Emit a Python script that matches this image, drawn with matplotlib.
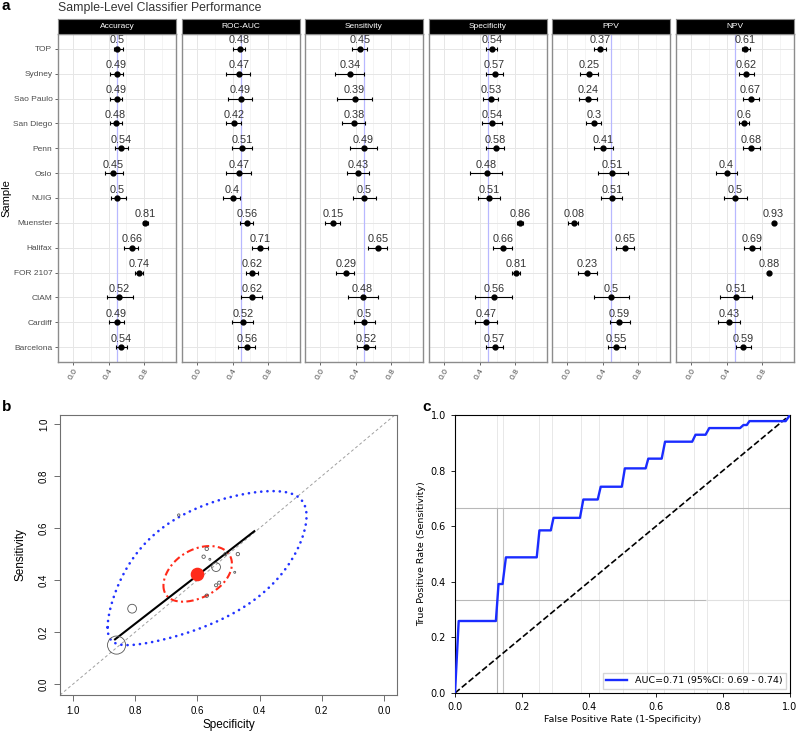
import numpy as np
import matplotlib.pyplot as plt

# ---- panel a data (rows top -> bottom) ----
sites = ["TOP", "Sydney", "Sao Paulo", "San Diego", "Penn", "Oslo", "NUIG",
         "Muenster", "Halifax", "FOR 2107", "CIAM", "Cardiff", "Barcelona"]
metrics = ["Accuracy", "ROC-AUC", "Sensitivity", "Specificity", "PPV", "NPV"]

acc = [0.50, 0.49, 0.49, 0.48, 0.54, 0.45, 0.50, 0.81, 0.66, 0.74, 0.52, 0.49, 0.54]
acc_lo = [0.465, 0.414, 0.42, 0.414, 0.471, 0.358, 0.427, 0.783, 0.576, 0.697, 0.377, 0.407, 0.482]
acc_hi = [0.56, 0.565, 0.554, 0.546, 0.621, 0.558, 0.591, 0.847, 0.734, 0.783, 0.67, 0.573, 0.61]

auc = [0.48, 0.47, 0.49, 0.42, 0.51, 0.47, 0.40, 0.56, 0.71, 0.62, 0.62, 0.52, 0.56]
auc_lo = [0.407, 0.324, 0.343, 0.331, 0.395, 0.331, 0.29, 0.482, 0.614, 0.546, 0.493, 0.395, 0.463]
auc_hi = [0.539, 0.595, 0.614, 0.50, 0.621, 0.603, 0.48, 0.633, 0.795, 0.689, 0.734, 0.625, 0.652]

sens = [0.45, 0.34, 0.39, 0.38, 0.49, 0.43, 0.50, 0.15, 0.65, 0.29, 0.48, 0.50, 0.52]
sens_lo = [0.365, 0.166, 0.196, 0.249, 0.335, 0.298, 0.373, 0.053, 0.542, 0.185, 0.316, 0.38, 0.418]
sens_hi = [0.524, 0.497, 0.58, 0.505, 0.644, 0.554, 0.629, 0.23, 0.757, 0.38, 0.648, 0.617, 0.617]

spec = [0.54, 0.57, 0.53, 0.54, 0.58, 0.48, 0.51, 0.86, 0.66, 0.81, 0.56, 0.47, 0.57]
spec_lo = [0.478, 0.467, 0.437, 0.422, 0.478, 0.29, 0.38, 0.825, 0.554, 0.768, 0.354, 0.343, 0.467]
spec_hi = [0.60, 0.663, 0.61, 0.648, 0.674, 0.655, 0.625, 0.889, 0.768, 0.851, 0.761, 0.599, 0.663]

ppv = [0.37, 0.25, 0.24, 0.30, 0.41, 0.51, 0.51, 0.08, 0.65, 0.23, 0.50, 0.59, 0.55]
ppv_lo = [0.305, 0.147, 0.139, 0.211, 0.298, 0.343, 0.38, 0.015, 0.554, 0.12, 0.298, 0.486, 0.456]
ppv_hi = [0.437, 0.347, 0.335, 0.384, 0.516, 0.686, 0.618, 0.128, 0.75, 0.335, 0.70, 0.704, 0.648]

npv = [0.61, 0.62, 0.67, 0.60, 0.68, 0.40, 0.50, 0.93, 0.69, 0.88, 0.51, 0.43, 0.59]
npv_lo = [0.569, 0.535, 0.58, 0.542, 0.588, 0.279, 0.373, 0.922, 0.599, 0.872, 0.328, 0.309, 0.505]
npv_hi = [0.663, 0.712, 0.76, 0.655, 0.78, 0.512, 0.625, 0.938, 0.78, 0.888, 0.686, 0.554, 0.674]

# ---- panel b data ----
study_weight = [40, 6, 5, 5, 6, 2, 5, 170, 3, 40, 2, 6, 6]   # relative circle area
summary_spec, summary_sens = 0.60, 0.425
sroc_spec = [0.865, 0.417]
sroc_sens = [0.172, 0.588]
# regions on logit scale: centre (spec, sens), half-widths, phase
conf_region = dict(cx=0.424, cy=-0.322, a=0.468, b=0.446, phi=1.97)
pred_region = dict(cx=0.488, cy=-0.339, a=1.592, b=1.397, phi=2.31)

# ---- panel c data ----
roc_fpr = [0.0, 0.011, 0.122, 0.130, 0.142, 0.152, 0.244, 0.252, 0.286, 0.294, 0.373,
           0.383, 0.426, 0.435, 0.498, 0.507, 0.569, 0.577, 0.617, 0.627, 0.708,
           0.718, 0.748, 0.759, 0.851, 0.861, 0.871, 0.879, 0.987, 1.0]
roc_tpr = [0.0, 0.259, 0.259, 0.392, 0.392, 0.488, 0.488, 0.585, 0.585, 0.630, 0.630,
           0.696, 0.696, 0.742, 0.742, 0.808, 0.808, 0.843, 0.843, 0.904, 0.904,
           0.929, 0.929, 0.953, 0.953, 0.964, 0.964, 0.978, 0.978, 1.0]
fold_fpr = [0.124, 0.144, 0.25, 0.289, 0.376, 0.431, 0.50, 0.572, 0.625, 0.714,
            0.751, 0.861, 0.876]
fold_tpr = [0.333, 0.667]

W, H = 798, 733
fig = plt.figure(figsize=(W / 100, H / 100), dpi=100)


def ax_px(x0, y0, x1, y1):
    return fig.add_axes([x0 / W, 1 - y1 / H, (x1 - x0) / W, (y1 - y0) / H])


SANS = ["Liberation Sans", "DejaVu Sans"]

# ================= panel a =================
fig.text(1 / W, 1 - 6 / H, "a", fontsize=11, fontweight="bold", family=SANS, va="center")
fig.text(58 / W, 1 - 8 / H, "Sample-Level Classifier Performance", fontsize=8.8,
         family=SANS, color="#333333", va="center")
fig.text(6 / W, 1 - 198 / H, "Sample", rotation=90, fontsize=8, family=SANS,
         va="center", ha="center")

series = [(acc, acc_lo, acc_hi), (auc, auc_lo, auc_hi), (sens, sens_lo, sens_hi),
          (spec, spec_lo, spec_hi), (ppv, ppv_lo, ppv_hi), (npv, npv_lo, npv_hi)]
lefts = [58, 182, 305, 429, 552, 676]
ypos = np.arange(len(sites), 0, -1)

for i, (name, (v, lo, hi)) in enumerate(zip(metrics, series)):
    v, lo, hi = np.array(v), np.array(lo), np.array(hi)
    ax = ax_px(lefts[i], 34, lefts[i] + 118, 362)
    ax.set_xlim(-0.17, 1.16)
    ax.set_ylim(0.4, len(sites) + 0.6)
    for g in [0.0, 0.4, 0.8]:
        ax.axvline(g, color="#e6e6e6", lw=0.7, zorder=0)
    for g in [0.2, 0.6, 1.0]:
        ax.axvline(g, color="#f0f0f0", lw=0.5, zorder=0)
    for yy in ypos:
        ax.axhline(yy, color="#e6e6e6", lw=0.7, zorder=0)
    ax.axvline(0.5, color="#b8b8ff", lw=0.9, zorder=1)
    ax.errorbar(v, ypos, xerr=[v - lo, hi - v], fmt="o", color="black", ms=3.5,
                elinewidth=0.8, capsize=1.4, capthick=0.8, zorder=3)
    for val, yy in zip(v, ypos):
        ax.annotate(f"{val:g}", (val, yy), xytext=(0, 2.5), textcoords="offset points",
                    ha="center", va="bottom", fontsize=7.8, color="#333333", family=SANS)
    for s in ax.spines.values():
        s.set_color("#8c8c8c")
        s.set_linewidth(1.0)
    ax.set_xticks([0.0, 0.4, 0.8])
    ax.set_xticklabels(["0.0", "0.4", "0.8"], fontsize=6, color="#4d4d4d", family=SANS)
    plt.setp(ax.get_xticklabels(), rotation=60, ha="right", va="top", rotation_mode="anchor")
    ax.tick_params(axis="x", length=2, pad=2, color="#4d4d4d", width=0.6)
    ax.set_yticks(ypos)
    if i == 0:
        ax.set_yticklabels(sites, fontsize=6, color="#4d4d4d", family=SANS)
        ax.tick_params(axis="y", length=2, pad=2, color="#4d4d4d", width=0.6)
    else:
        ax.set_yticklabels([])
        ax.tick_params(axis="y", length=0)
    sax = ax_px(lefts[i], 19, lefts[i] + 118, 34)
    sax.set_facecolor("black")
    sax.set_xticks([])
    sax.set_yticks([])
    for s in sax.spines.values():
        s.set_color("#8c8c8c")
    sax.text(0.5, 0.5, name, color="white", fontsize=6, ha="center", va="center",
             family=SANS, transform=sax.transAxes)

# ================= panel b =================
fig.text(2 / W, 1 - 407 / H, "b", fontsize=11, fontweight="bold", family=SANS, va="center")
axb = ax_px(60, 415, 397, 695)
axb.set_xlim(1.042, -0.042)
axb.set_ylim(-0.042, 1.035)
axb.plot([1.042, -0.042], [-0.042, 1.042], ls=(0, (3, 2.5)), color="#a0a0a0", lw=0.7)


def logit_region(p, n=300):
    t = np.linspace(0, 2 * np.pi, n)
    lx = p["cx"] + p["a"] * np.cos(t)
    ly = p["cy"] + p["b"] * np.cos(t + p["phi"])
    return 1 / (1 + np.exp(-lx)), 1 / (1 + np.exp(-ly))


px, py = logit_region(pred_region)
axb.plot(px, py, color="#2233ff", lw=1.9, ls=(0, (0.05, 2.3)), dash_capstyle="round")
cx_, cy_ = logit_region(conf_region)
axb.plot(cx_, cy_, color="#ff2a1a", lw=1.5, ls=(0, (3.5, 1.6, 1.0, 1.6)))
axb.plot(sroc_spec, sroc_sens, color="black", lw=1.5)
axb.scatter(spec, sens, s=study_weight, facecolors="none", edgecolors="#555555",
            linewidths=0.6, zorder=4)
axb.plot([summary_spec], [summary_sens], "o", color="#ff2a1a", ms=8.8, zorder=5)
ticks = [0.0, 0.2, 0.4, 0.6, 0.8, 1.0]
axb.set_xticks(ticks)
axb.set_xticklabels([f"{t:.1f}" for t in ticks], fontsize=7, family=SANS)
axb.set_yticks(ticks)
axb.set_yticklabels([f"{t:.1f}" for t in ticks], fontsize=7, family=SANS,
                    rotation=90, va="center")
axb.tick_params(length=4, width=0.6, color="#555555", pad=4)
for s in axb.spines.values():
    s.set_color("#707070")
    s.set_linewidth(0.8)
axb.set_xlabel("Specificity", fontsize=8.5, family=SANS, labelpad=2)
axb.set_ylabel("Sensitivity", fontsize=8.5, family=SANS, labelpad=9)

# ================= panel c =================
fig.text(422 / W, 1 - 407 / H, "c", fontsize=11, fontweight="bold", family=SANS, va="center")
axc = ax_px(455, 415, 790, 693)
axc.set_xlim(0, 1)
axc.set_ylim(0, 1)
for f in fold_fpr:
    axc.axvline(f, color="#d9d9d9", lw=0.7, alpha=0.6, zorder=0)
axc.plot([fold_fpr[0], fold_fpr[0]], [0, fold_tpr[1]], color="#b0b0b0", lw=0.8, zorder=1)
axc.plot([fold_fpr[1], fold_fpr[1]], [0, fold_tpr[1]], color="#c0c0c0", lw=0.8, zorder=1)
axc.plot([0, 1], [fold_tpr[1], fold_tpr[1]], color="#b8b8b8", lw=0.8, zorder=1)
axc.plot([0, 0.75], [fold_tpr[0], fold_tpr[0]], color="#b8b8b8", lw=0.8, zorder=1)
axc.plot([0.75, 1], [fold_tpr[0], fold_tpr[0]], color="#e0e0e0", lw=0.8, zorder=1)
axc.plot([0, 1], [0, 1], ls="--", color="black", lw=1.2, zorder=2)
axc.plot(roc_fpr, roc_tpr, color="#1a2cff", lw=1.7, zorder=3,
         label="AUC=0.71 (95%CI: 0.69 - 0.74)")
axc.set_xticks(ticks)
axc.set_yticks(ticks)
axc.tick_params(labelsize=7, length=3, width=0.6)
axc.set_xlabel("False Positive Rate (1-Specificity)", fontsize=6.8, labelpad=2)
axc.set_ylabel("True Positive Rate (Sensitivity)", fontsize=6.8, labelpad=3)
for s in axc.spines.values():
    s.set_linewidth(0.8)
axc.legend(loc="lower right", fontsize=6.8, frameon=True, fancybox=False,
           edgecolor="#cccccc", handlelength=2.2, borderaxespad=0.4)

fig.savefig("out.png", dpi=100)
